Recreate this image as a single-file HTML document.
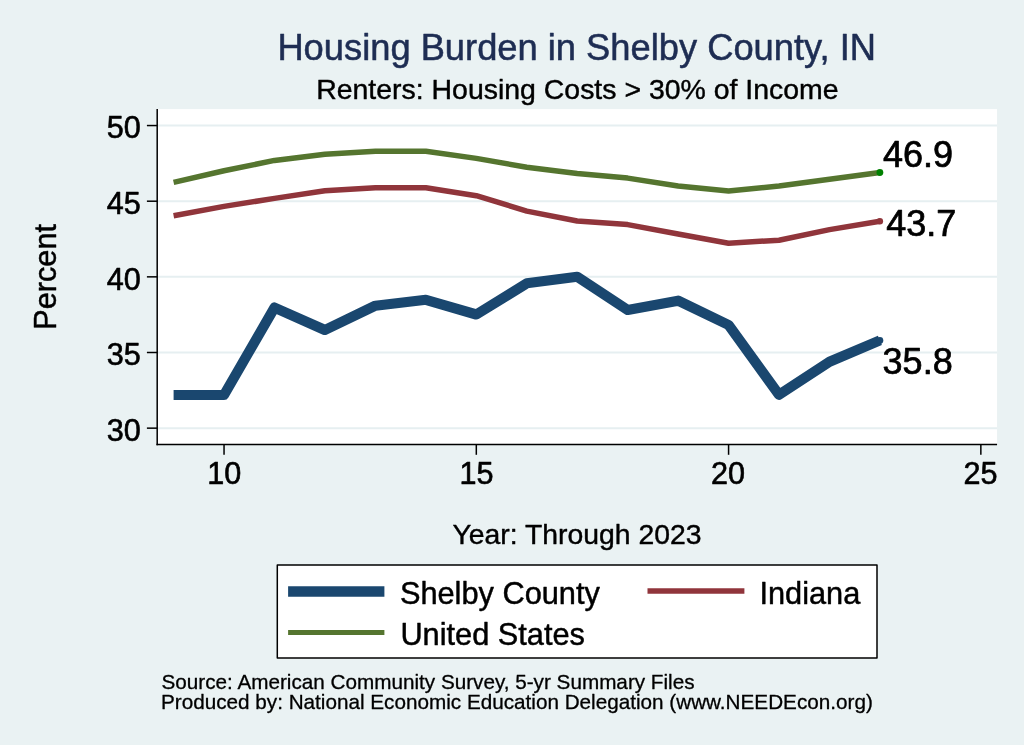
<!DOCTYPE html>
<html lang="en"><head><meta charset="utf-8"><title>Housing Burden in Shelby County, IN</title>
<style>html,body{margin:0;padding:0;background:#eaf2f3}svg{display:block}</style></head>
<body>
<svg width="1024" height="745" viewBox="0 0 1024 745" font-family="Liberation Sans, Arial, Helvetica, sans-serif" stroke-linejoin="round">
<style>text{stroke:#000;stroke-width:0.015em} text.t{stroke:#1e2d53} text.d{stroke-width:0.02em}</style>
<rect width="1024" height="745" fill="#eaf2f3"/>
<rect x="157.2" y="109.1" width="839.86" height="335.4" fill="#ffffff"/>
<line x1="158" x2="997" y1="428.15" y2="428.15" stroke="#e6eff1" stroke-width="2"/>
<line x1="158" x2="997" y1="352.50" y2="352.50" stroke="#e6eff1" stroke-width="2"/>
<line x1="158" x2="997" y1="276.85" y2="276.85" stroke="#e6eff1" stroke-width="2"/>
<line x1="158" x2="997" y1="201.20" y2="201.20" stroke="#e6eff1" stroke-width="2"/>
<line x1="158" x2="997" y1="125.55" y2="125.55" stroke="#e6eff1" stroke-width="2"/>
<polyline points="173.6,395.0 224.0,395.0 274.5,307.6 324.9,330.0 375.4,305.7 425.9,299.8 476.3,314.5 526.8,283.3 577.2,276.8 627.7,310.0 678.1,300.7 728.6,325.0 779.0,394.8 829.5,361.8 879.9,340.4" fill="none" stroke="#1a476f" stroke-width="10.2" stroke-linejoin="round"/>
<polyline points="173.6,215.7 224.0,206.4 274.5,198.4 324.9,190.8 375.4,187.7 425.9,187.7 476.3,195.7 526.8,211.1 577.2,221.0 627.7,224.6 678.1,234.0 728.6,243.2 779.0,240.2 829.5,229.6 879.9,221.3" fill="none" stroke="#90353b" stroke-width="5.5" stroke-linejoin="round"/>
<polyline points="173.6,182.4 224.0,170.8 274.5,160.4 324.9,154.2 375.4,151.2 425.9,151.2 476.3,158.4 526.8,167.2 577.2,173.4 627.7,178.1 678.1,186.0 728.6,191.1 779.0,186.1 829.5,179.3 879.9,172.5" fill="none" stroke="#55752f" stroke-width="5.5" stroke-linejoin="round"/>
<circle cx="879.9" cy="340.4" r="3.4" fill="#1a476f"/>
<circle cx="879.9" cy="221.3" r="3.2" fill="#90353b"/>
<circle cx="879.9" cy="172.5" r="3.4" fill="#008000"/>
<line x1="157.2" x2="157.2" y1="109" y2="445.2" stroke="#000" stroke-width="1.5"/>
<line x1="156.45" x2="997.06" y1="444.45" y2="444.45" stroke="#000" stroke-width="1.5"/>
<line x1="146.9" x2="157.2" y1="428.15" y2="428.15" stroke="#000" stroke-width="1.5"/>
<text x="140.9" y="440.9" font-size="30.6" text-anchor="end" class="d">30</text>
<line x1="146.9" x2="157.2" y1="352.50" y2="352.50" stroke="#000" stroke-width="1.5"/>
<text x="140.9" y="365.3" font-size="30.6" text-anchor="end" class="d">35</text>
<line x1="146.9" x2="157.2" y1="276.85" y2="276.85" stroke="#000" stroke-width="1.5"/>
<text x="140.9" y="289.6" font-size="30.6" text-anchor="end" class="d">40</text>
<line x1="146.9" x2="157.2" y1="201.20" y2="201.20" stroke="#000" stroke-width="1.5"/>
<text x="140.9" y="214.0" font-size="30.6" text-anchor="end" class="d">45</text>
<line x1="146.9" x2="157.2" y1="125.55" y2="125.55" stroke="#000" stroke-width="1.5"/>
<text x="140.9" y="138.3" font-size="30.6" text-anchor="end" class="d">50</text>
<line x1="224.04" x2="224.04" y1="444.45" y2="454.8" stroke="#000" stroke-width="1.5"/>
<text x="224.2" y="483.9" font-size="30.6" text-anchor="middle" class="d">10</text>
<line x1="476.31" x2="476.31" y1="444.45" y2="454.8" stroke="#000" stroke-width="1.5"/>
<text x="476.5" y="483.9" font-size="30.6" text-anchor="middle" class="d">15</text>
<line x1="728.58" x2="728.58" y1="444.45" y2="454.8" stroke="#000" stroke-width="1.5"/>
<text x="728.1" y="483.9" font-size="30.6" text-anchor="middle" class="d">20</text>
<line x1="980.85" x2="980.85" y1="444.45" y2="454.8" stroke="#000" stroke-width="1.5"/>
<text x="980.4" y="483.9" font-size="30.6" text-anchor="middle" class="d">25</text>
<text x="883.0" y="167.4" font-size="36" class="d">46.9</text>
<text x="886.2" y="236.1" font-size="36" class="d">43.7</text>
<text x="882.6" y="373.9" font-size="36" class="d">35.8</text>
<text x="576.7" y="60.2" font-size="36.3" text-anchor="middle" fill="#1e2d53" class="t">Housing Burden in Shelby County, IN</text>
<text x="577.4" y="98.8" font-size="28.45" text-anchor="middle">Renters: Housing Costs &gt; 30% of Income</text>
<text transform="translate(55.8,276.9) rotate(-90)" font-size="30.7" text-anchor="middle">Percent</text>
<text x="577" y="543.8" font-size="28.35" text-anchor="middle">Year: Through 2023</text>
<rect x="277.3" y="565.1" width="599.7" height="93" fill="#ffffff" stroke="#000" stroke-width="1.5"/>
<line x1="288.1" x2="384.4" y1="591.4" y2="591.4" stroke="#1a476f" stroke-width="10.5"/>
<line x1="288.1" x2="384.4" y1="632.5" y2="632.5" stroke="#55752f" stroke-width="5"/>
<line x1="647.5" x2="744.4" y1="591.1" y2="591.1" stroke="#90353b" stroke-width="5.5"/>
<text x="399.9" y="603.7" font-size="30.75">Shelby County</text>
<text x="400.4" y="645" font-size="30.75">United States</text>
<text x="759.4" y="603.7" font-size="30.75">Indiana</text>
<text x="161.5" y="688.8" font-size="20.7" class="n">Source: American Community Survey, 5-yr Summary Files</text>
<text x="161" y="709" font-size="20.7" class="n">Produced by: National Economic Education Delegation (www.NEEDEcon.org)</text>
</svg>
</body></html>
